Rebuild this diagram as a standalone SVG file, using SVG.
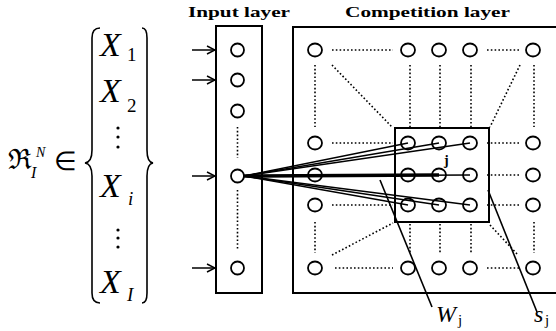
<svg xmlns="http://www.w3.org/2000/svg" width="556" height="331" viewBox="0 0 556 331">
<defs>
<marker id="arr" markerWidth="10" markerHeight="10" refX="9" refY="5" orient="auto" markerUnits="userSpaceOnUse">
<polyline points="1,1 9,5 1,9" fill="none" stroke="#000" stroke-width="1.5"/>
</marker>
</defs>
<style>
.box{fill:none;stroke:#000;stroke-width:2}
.node{fill:#fff;stroke:#000;stroke-width:1.8}
.dot{stroke:#000;stroke-width:1.6;stroke-dasharray:1.6 2.2;fill:none}
.w{stroke:#000;stroke-width:1.6;fill:none}
.title{font-family:"Liberation Serif",serif;font-weight:bold;font-size:15px}
.m{font-family:"Liberation Serif",serif;font-style:italic}
.r{font-family:"Liberation Serif",serif}
</style>
<rect width="556" height="331" fill="#fff"/>

<g id="formula">
<text x="8" y="169" font-family="DejaVu Serif,serif" font-size="28">ℜ</text>
<text class="m" x="36" y="157" font-size="14">N</text>
<text class="m" x="31" y="178" font-size="16">I</text>
<text class="r" x="54" y="170" font-size="26">∈</text>
<path d="M100,28 Q92,28 92,38 L92,150 Q92,162 85,163 Q92,164 92,176 L92,293 Q92,303 100,303" class="w"/>
<path d="M142,28 Q147,28 147,38 L147,150 Q147,162 153,163 Q147,164 147,176 L147,293 Q147,303 142,303" class="w"/>
<text class="m" x="100" y="56" font-size="34">X</text><text class="r" x="127" y="61" font-size="19">1</text>
<text class="m" x="100" y="102" font-size="34">X</text><text class="r" x="127" y="112" font-size="19">2</text>
<g fill="#000"><circle cx="118" cy="128" r="1.6"/><circle cx="118" cy="137" r="1.6"/><circle cx="118" cy="147" r="1.6"/>
<circle cx="118" cy="230" r="1.6"/><circle cx="118" cy="238" r="1.6"/><circle cx="118" cy="247" r="1.6"/></g>
<text class="m" x="100" y="197" font-size="34">X</text><text class="m" x="128" y="205" font-size="19">i</text>
<text class="m" x="100" y="293" font-size="34">X</text><text class="m" x="127" y="301" font-size="19">I</text>
</g>

<g id="input-layer">
<text class="title" x="188" y="17" textLength="102" lengthAdjust="spacingAndGlyphs">Input layer</text>
<rect class="box" x="216" y="26" width="46" height="267"/>
<line class="dot" x1="237.5" y1="127" x2="237.5" y2="158"/>
<line class="dot" x1="237.5" y1="190" x2="237.5" y2="250"/>
<ellipse class="node" cx="237.5" cy="50" rx="6.5" ry="6.5"/>
<ellipse class="node" cx="237.5" cy="80" rx="6.5" ry="6.5"/>
<ellipse class="node" cx="237.5" cy="111" rx="6.5" ry="6.5"/>
<ellipse class="node" cx="237.5" cy="176" rx="6.5" ry="6.5"/>
<ellipse class="node" cx="237.5" cy="268" rx="6.5" ry="6.5"/>
</g>

<g id="competition-layer">
<text class="title" x="345" y="17" textLength="165" lengthAdjust="spacingAndGlyphs">Competition layer</text>
<rect class="box" x="293" y="27" width="270" height="266"/>
<g class="dot">
<line x1="332" y1="50" x2="393" y2="50"/><line x1="487" y1="50" x2="520" y2="50"/>
<line x1="332" y1="143" x2="393" y2="143"/><line x1="487" y1="143" x2="520" y2="143"/>
<line x1="487" y1="175" x2="520" y2="175"/>
<line x1="332" y1="205" x2="393" y2="205"/><line x1="487" y1="205" x2="520" y2="205"/>
<line x1="335" y1="268" x2="393" y2="268"/><line x1="487" y1="268" x2="520" y2="268"/>
<line x1="315" y1="65" x2="315" y2="127"/><line x1="410" y1="65" x2="410" y2="127"/><line x1="440" y1="65" x2="440" y2="127"/><line x1="471" y1="65" x2="471" y2="127"/><line x1="534" y1="65" x2="534" y2="127"/>
<line x1="332" y1="65" x2="392" y2="127"/><line x1="520" y1="65" x2="490" y2="127"/>
<line x1="315" y1="222" x2="315" y2="253"/><line x1="410" y1="224" x2="410" y2="253"/><line x1="440" y1="224" x2="440" y2="253"/><line x1="471" y1="224" x2="471" y2="253"/><line x1="534" y1="222" x2="534" y2="253"/>
<line x1="332" y1="255" x2="393" y2="223"/><line x1="490" y1="225" x2="518" y2="255"/>
</g>
<rect class="box" x="395" y="128" width="94" height="94"/>
<text x="444" y="165" font-family="Liberation Serif,serif" font-weight="bold" font-size="14">j</text>
<g id="grid-nodes">
<ellipse class="node" cx="315" cy="50" rx="7" ry="6.5"/><ellipse class="node" cx="408" cy="50" rx="7" ry="6.5"/><ellipse class="node" cx="439" cy="50" rx="7" ry="6.5"/><ellipse class="node" cx="470" cy="50" rx="7" ry="6.5"/><ellipse class="node" cx="533" cy="50" rx="7" ry="6.5"/>
<ellipse class="node" cx="315" cy="143" rx="7" ry="6.5"/><ellipse class="node" cx="408" cy="143" rx="7" ry="6.5"/><ellipse class="node" cx="439" cy="143" rx="7" ry="6.5"/><ellipse class="node" cx="470" cy="143" rx="7" ry="6.5"/><ellipse class="node" cx="533" cy="143" rx="7" ry="6.5"/>
<ellipse class="node" cx="315" cy="175" rx="7" ry="6.5"/><ellipse class="node" cx="408" cy="175" rx="7" ry="6.5"/><ellipse class="node" cx="439" cy="175" rx="7" ry="6.5"/><ellipse class="node" cx="470" cy="175" rx="7" ry="6.5"/><ellipse class="node" cx="533" cy="175" rx="7" ry="6.5"/>
<ellipse class="node" cx="315" cy="205" rx="7" ry="6.5"/><ellipse class="node" cx="408" cy="205" rx="7" ry="6.5"/><ellipse class="node" cx="439" cy="205" rx="7" ry="6.5"/><ellipse class="node" cx="470" cy="205" rx="7" ry="6.5"/><ellipse class="node" cx="533" cy="205" rx="7" ry="6.5"/>
<ellipse class="node" cx="315" cy="268" rx="7" ry="6.5"/><ellipse class="node" cx="408" cy="268" rx="7" ry="6.5"/><ellipse class="node" cx="439" cy="268" rx="7" ry="6.5"/><ellipse class="node" cx="470" cy="268" rx="7" ry="6.5"/><ellipse class="node" cx="533" cy="268" rx="7" ry="6.5"/>
</g>
</g>

<g id="connectors">
<g stroke="#000" stroke-width="1.5" marker-end="url(#arr)">
<line x1="192" y1="50" x2="215" y2="50"/>
<line x1="192" y1="80" x2="215" y2="80"/>
<line x1="192" y1="176" x2="215" y2="176"/>
<line x1="192" y1="268" x2="215" y2="268"/>
</g>
<g stroke="#000" stroke-width="1.6" fill="none">
<line x1="244" y1="176" x2="408" y2="143"/>
<line x1="244" y1="176" x2="439" y2="143"/>
<line x1="244" y1="176" x2="470" y2="143"/>
<line x1="244" y1="176" x2="470" y2="175"/>
<line x1="244" y1="176" x2="408" y2="205"/>
<line x1="244" y1="176" x2="439" y2="205"/>
<line x1="244" y1="176" x2="470" y2="205"/>
</g>
<g stroke="#000" stroke-width="3.5">
<line x1="244" y1="176" x2="439" y2="175"/>
</g>
<line class="w" x1="380" y1="180" x2="432" y2="307"/>
<line class="w" x1="488" y1="190" x2="537" y2="312"/>
</g>

<g id="labels">
<text class="m" x="436" y="322" font-size="24">W</text><text class="r" x="458" y="325" font-size="15">j</text>
<text class="m" x="534" y="322" font-size="24">s</text><text class="r" x="545" y="325" font-size="15">j</text>
</g>
</svg>
